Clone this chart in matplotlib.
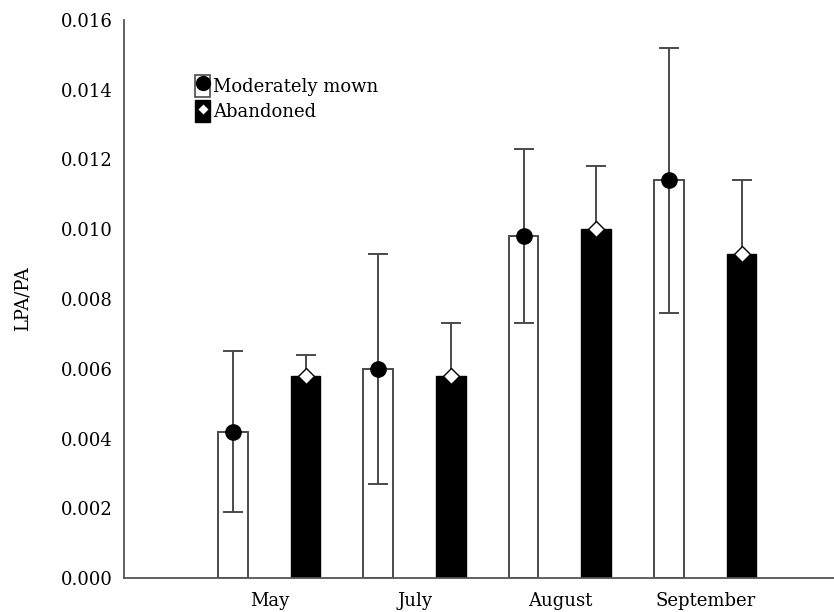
import numpy as np
import matplotlib
matplotlib.use('Agg')
import matplotlib.pyplot as plt
from matplotlib.patches import Patch
from matplotlib.lines import Line2D

plt.rcParams['font.family'] = ['DejaVu Serif']

# 数据
months = ['May', 'July', 'August', 'September']
mown = [0.0042, 0.0060, 0.0098, 0.0114]
mown_err = [0.0023, 0.0033, 0.0025, 0.0038]
abandoned = [0.0058, 0.0058, 0.0100, 0.0093]
abandoned_err = [0.0006, 0.0015, 0.0018, 0.0021]

edge = '#4a4a4a'
fs = 13

fig = plt.figure(figsize=(8.34, 6.12), dpi=100)
ax = fig.add_axes([124 / 834, 34 / 612, 710 / 834, 558 / 612])

x = np.arange(1, len(months) + 1)
w = 0.204
off = 0.25

# 白柱：中度刈割
ax.bar(x - off, mown, width=w, color='white', edgecolor=edge, linewidth=1.4, zorder=2)
ax.errorbar(x - off, mown, yerr=mown_err, fmt='none', ecolor=edge, elinewidth=1.4,
            capsize=7, capthick=1.4, zorder=3)
ax.plot(x - off, mown, 'o', color='black', markersize=11, zorder=4)

# 黑柱：弃耕
ax.errorbar(x + off, abandoned, yerr=abandoned_err, fmt='none', ecolor=edge, elinewidth=1.4,
            capsize=7, capthick=1.4, zorder=1)
ax.bar(x + off, abandoned, width=w, color='black', edgecolor='black', linewidth=1.0, zorder=2)
ax.plot(x + off, abandoned, 'D', color='white', markeredgecolor='black', markeredgewidth=1.0,
        markersize=8, zorder=4)

ax.set_xlim(0, 710 / 145.3)
ax.set_ylim(0, 0.016)
ax.set_yticks(np.arange(0, 0.0161, 0.002))
ax.set_yticklabels([f'{v:.3f}' for v in np.arange(0, 0.0161, 0.002)], fontsize=fs)
ax.set_xticks(x)
ax.set_xticklabels(months, fontsize=fs)
ax.tick_params(axis='both', length=0)
ax.tick_params(axis='x', pad=10)
ax.tick_params(axis='y', pad=8)

for s in ['top', 'right']:
    ax.spines[s].set_visible(False)
for s in ['left', 'bottom']:
    ax.spines[s].set_color('#555555')
    ax.spines[s].set_linewidth(1.3)

ax.set_ylabel('LPA/PA', fontsize=fs, labelpad=21)

# 图例
h1 = (Patch(facecolor='white', edgecolor=edge, linewidth=1.2),
      Line2D([], [], marker='o', color='black', linestyle='none', markersize=10))
h2 = (Patch(facecolor='black', edgecolor='black'),
      Line2D([], [], marker='D', color='white', markeredgecolor='black', linestyle='none',
             markersize=6.5))
ax.legend([h1, h2], ['Moderately mown', 'Abandoned'], loc='upper left',
          bbox_to_anchor=(0.09, 0.915), frameon=False, fontsize=fs,
          handlelength=0.85, handleheight=1.5, handletextpad=0.15, labelspacing=0.2,
          borderaxespad=0)

plt.savefig('out.png', dpi=100)
plt.close()
